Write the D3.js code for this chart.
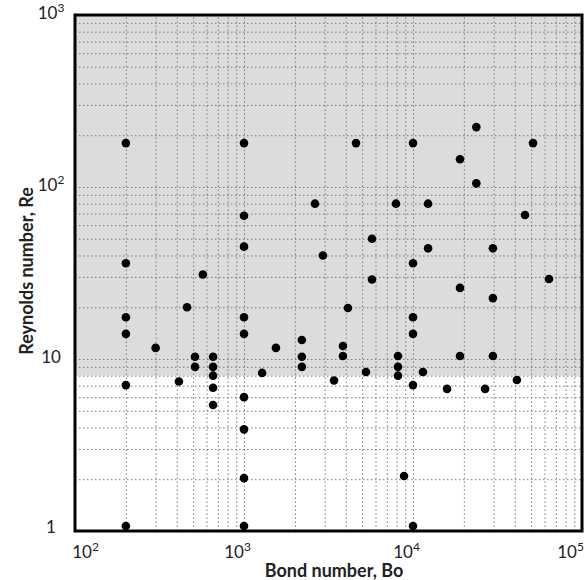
<!DOCTYPE html>
<meta charset="utf-8">
<script src="https://cdn.jsdelivr.net/npm/d3@7"></script>
<style>
  body { margin: 0; background: #fff; }
  text { font-family: Lato, "Open Sans", sans-serif; fill: #222; }
</style>
<div id="my_dataviz"></div>
<script>

// data: Bond number and Reynolds number of each point
var bo = [200, 200, 200, 200, 200, 200,
          300, 412, 460, 513, 513, 571,
          656, 656, 656, 656, 656,
          1000, 1000, 1000, 1000, 1000, 1000, 1000, 1000, 1000,
          1280, 1545, 2200, 2200, 2200, 2630, 2930, 3410, 3850, 3850,
          4120, 4600, 5270, 5720, 5720, 7930, 8150, 8150, 8150, 8850,
          10000, 10000, 10000, 10000, 10000, 10000,
          11450, 12280, 12280, 15900, 18970, 18970, 18970, 23700, 23700,
          26700, 29700, 29700, 29700, 41200, 46000, 51300, 63800];
var re = [180, 36, 17.5, 14, 7.05, 1.07,
          11.6, 7.4, 20, 10.3, 9.0, 31,
          10.3, 9.0, 8.0, 6.8, 5.4,
          180, 68, 45, 17.5, 14, 6.0, 3.9, 2.03, 1.07,
          8.3, 11.6, 12.9, 10.3, 9.0, 80, 40, 7.5, 11.9, 10.4,
          19.8, 180, 8.4, 50, 29, 80, 10.4, 9.0, 8.0, 2.09,
          180, 36, 17.5, 14, 7.05, 1.07,
          8.4, 80, 44, 6.7, 145, 25.9, 10.4, 105, 223,
          6.7, 44, 22.6, 10.4, 7.55, 68.7, 180, 29.2];

var xMajor = [1e2, 1e3, 1e4, 1e5];
var xLabels = [["10", "2"], ["10", "3"], ["10", "4"], ["10", "5"]];
var yMajor = [1, 10, 100, 1000];
var yLabels = [["1", ""], ["10", ""], ["10", "2"], ["10", "3"]];
var shadeFrom = 8;   // grey band: Re from 8 up to the top of the chart

var margin = {top: 15, right: 5, bottom: 49, left: 75},
    width = 587 - margin.left - margin.right,
    height = 580 - margin.top - margin.bottom;

var svg = d3.select("#my_dataviz")
  .append("svg")
    .attr("width", 587)
    .attr("height", 580)
  .append("g")
    .attr("transform", "translate(" + margin.left + "," + margin.top + ")");

var x = d3.scaleLog().domain([1e2, 1e5]).range([0, width]);
var y = d3.scaleLog().domain([1, 1e3]).range([height, 0]);

// minor values 1..9 x 10^n
function minors(lo, hi) {
  var out = [];
  for (var p = lo; p < hi; p *= 10)
    for (var k = 1; k < 10; k++) out.push(k * p);
  out.push(hi);
  return out;
}

// grey band
svg.append("rect")
  .attr("x", 0)
  .attr("y", y(1000))
  .attr("width", width)
  .attr("height", y(shadeFrom) - y(1000))
  .attr("fill", "#dcdcdc");

// grid lines
svg.append("g")
  .attr("class", "grid")
  .attr("transform", "translate(0," + height + ")")
  .call(d3.axisBottom(x).tickValues(minors(1e2, 1e5)).tickSize(-height).tickFormat(""));
svg.append("g")
  .attr("class", "grid")
  .call(d3.axisLeft(y).tickValues(minors(1, 1e3)).tickSize(-width).tickFormat(""));
svg.selectAll(".grid .domain").remove();
svg.selectAll(".grid line")
  .attr("stroke", "#7a7a7a")
  .attr("stroke-width", 1)
  .attr("stroke-dasharray", "1.5,2.5");

// tick labels
function label(sel, parts) {
  sel.text(null);
  sel.append("tspan").text(parts[0]);
  if (parts[1]) sel.append("tspan").attr("font-size", 12).attr("dy", -7).text(parts[1]);
}

var xAx = svg.append("g")
  .attr("transform", "translate(0," + height + ")")
  .call(d3.axisBottom(x).tickValues(xMajor).tickSize(0).tickPadding(12).tickFormat(""));
xAx.select(".domain").remove();
xAx.selectAll(".tick text")
  .attr("font-size", 17)
  .attr("dy", "0.9em")
  .attr("dx", function(d, i) { return i == 0 ? 10 : (i == 3 ? -12 : -7); })
  .each(function(d, i) { label(d3.select(this), xLabels[i]); });

var yAx = svg.append("g")
  .call(d3.axisLeft(y).tickValues(yMajor).tickSize(0).tickPadding(14).tickFormat(""));
yAx.select(".domain").remove();
yAx.selectAll(".tick text")
  .attr("font-size", 17)
  .attr("text-anchor", "middle")
  .attr("x", -24)
  .attr("dy", function(d, i) { return i == 0 ? "0.1em" : "0.2em"; })
  .each(function(d, i) { label(d3.select(this), yLabels[i]); });

// frame
svg.append("rect")
  .attr("width", width)
  .attr("height", height)
  .attr("fill", "none")
  .attr("stroke", "#000")
  .attr("stroke-width", 3);

// points
svg.selectAll("circle")
  .data(bo.map(function(b, i) { return {bo: b, re: re[i]}; }))
  .enter()
  .append("circle")
    .attr("cx", function(d) { return x(d.bo); })
    .attr("cy", function(d) { return y(d.re); })
    .attr("r", 4.3)
    .attr("fill", "#000");

// axis titles
svg.append("text")
  .attr("x", 259)
  .attr("y", height + 46)
  .attr("text-anchor", "middle")
  .attr("font-size", 18)
  .attr("font-weight", "bold")
  .text("Bond number, Bo");

svg.append("text")
  .attr("transform", "translate(-42," + (y(1) - 260) + ") rotate(-90)")
  .attr("text-anchor", "middle")
  .attr("font-size", 18)
  .attr("font-weight", "bold")
  .text("Reynolds number, Re");

</script>
